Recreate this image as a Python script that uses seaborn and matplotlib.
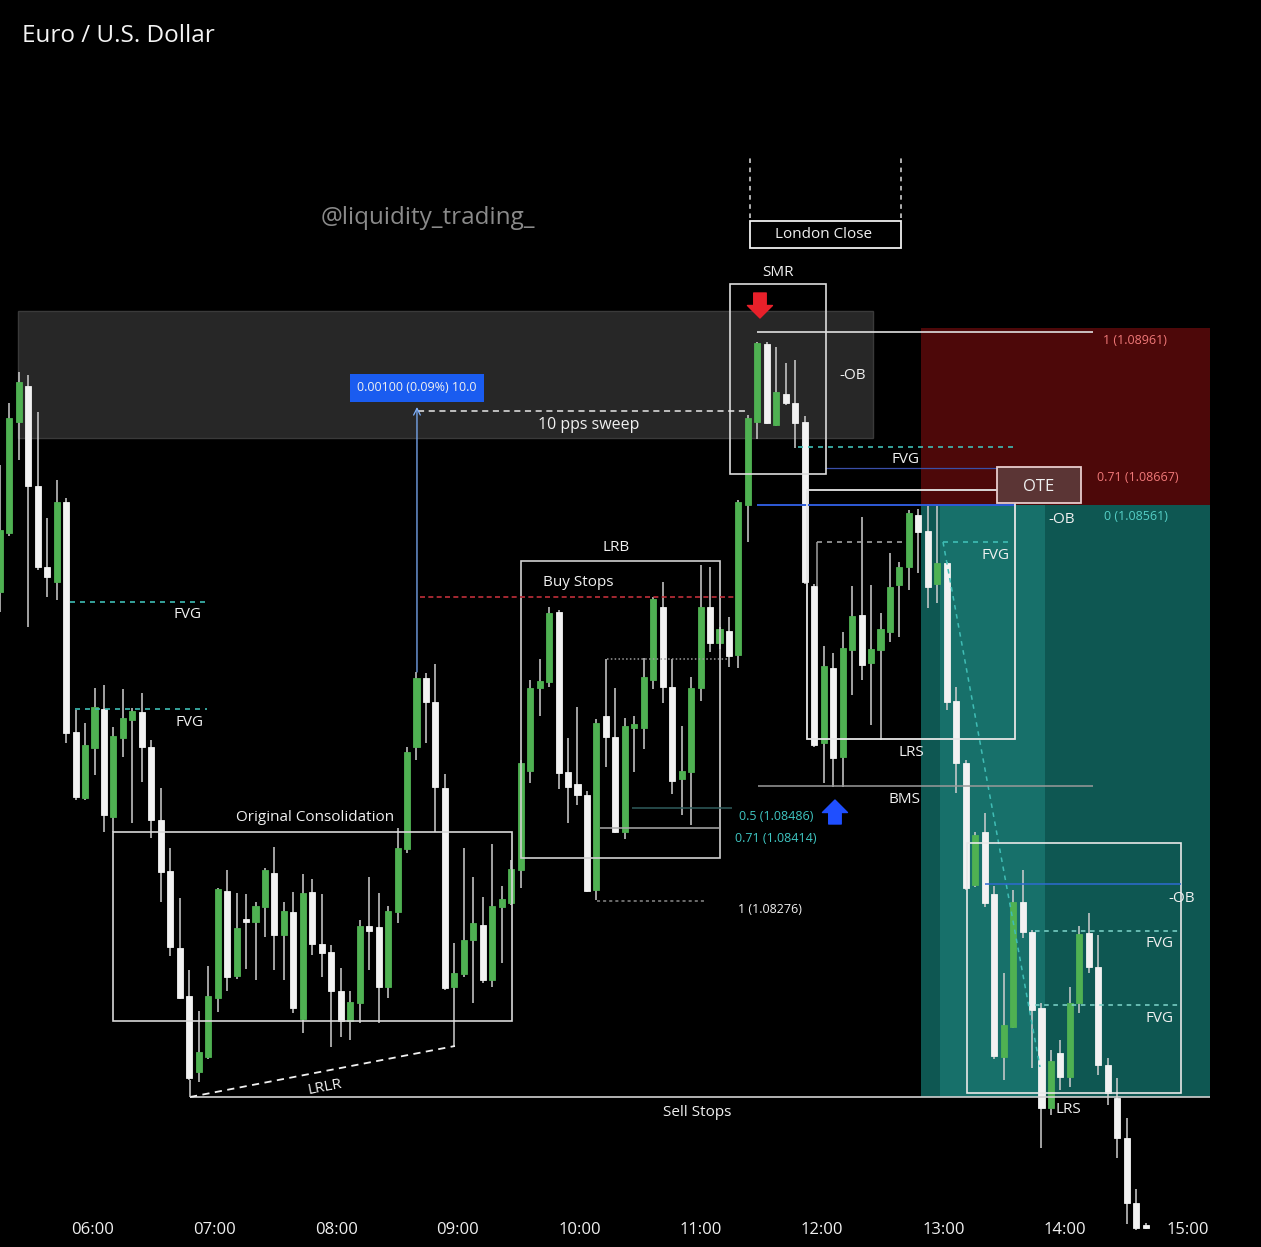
import matplotlib.pyplot as plt
import seaborn as sns
from matplotlib.patches import Rectangle

# EUR/USD 5-minute candles (first one is cut by the left edge)
open_ = [1.08701, 1.08760, 1.08871, 1.08907, 1.08807, 1.08726, 1.08711, 1.08791, 1.08561, 1.08495,
         1.08545, 1.08584, 1.08476, 1.08555, 1.08573, 1.08581, 1.08546, 1.08473, 1.08422, 1.08345,
         1.08297, 1.08221, 1.08236, 1.08295, 1.08402, 1.08317, 1.08373, 1.08371, 1.08386, 1.08420,
         1.08358, 1.08381, 1.08274, 1.08401, 1.08349, 1.08341, 1.08302, 1.08272, 1.08290, 1.08367,
         1.08366, 1.08306, 1.08381, 1.08444, 1.08546, 1.08615, 1.08591, 1.08505, 1.08306, 1.08319,
         1.08353, 1.08368, 1.08313, 1.08386, 1.08390, 1.08423, 1.08522, 1.08605, 1.08611, 1.08681,
         1.08521, 1.08509, 1.08498, 1.08403, 1.08577, 1.08556, 1.08461, 1.08565, 1.08565, 1.08613,
         1.08686, 1.08606, 1.08514, 1.08521, 1.08605, 1.08686, 1.08650, 1.08662, 1.08638, 1.08788,
         1.08871, 1.08949, 1.08868, 1.08899, 1.08890, 1.08871, 1.08707, 1.08550, 1.08625, 1.08536,
         1.08643, 1.08678, 1.08630, 1.08643, 1.08661, 1.08708, 1.08726, 1.08778, 1.08762, 1.08709,
         1.08730, 1.08592, 1.08530, 1.08408, 1.08461, 1.08399, 1.08236, 1.08266, 1.08391, 1.08361,
         1.08285, 1.08185, 1.08240, 1.08216, 1.08290, 1.08360, 1.08326, 1.08228, 1.08195, 1.08155,
         1.08090, 1.08068]
high = [1.08828, 1.08890, 1.08921, 1.08918, 1.08881, 1.08775, 1.08813, 1.08795, 1.08583, 1.08570,
        1.08605, 1.08608, 1.08566, 1.08604, 1.08585, 1.08600, 1.08553, 1.08505, 1.08445, 1.08395,
        1.08323, 1.08282, 1.08327, 1.08405, 1.08423, 1.08400, 1.08399, 1.08391, 1.08425, 1.08446,
        1.08391, 1.08401, 1.08419, 1.08414, 1.08399, 1.08348, 1.08325, 1.08302, 1.08373, 1.08416,
        1.08400, 1.08387, 1.08465, 1.08546, 1.08621, 1.08620, 1.08629, 1.08519, 1.08350, 1.08445,
        1.08416, 1.08396, 1.08449, 1.08407, 1.08433, 1.08533, 1.08613, 1.08634, 1.08686, 1.08683,
        1.08555, 1.08586, 1.08502, 1.08574, 1.08634, 1.08605, 1.08575, 1.08577, 1.08635, 1.08696,
        1.08711, 1.08634, 1.08567, 1.08616, 1.08728, 1.08726, 1.08666, 1.08676, 1.08793, 1.08878,
        1.08951, 1.08951, 1.08946, 1.08930, 1.08933, 1.08877, 1.08709, 1.08647, 1.08640, 1.08661,
        1.08707, 1.08776, 1.08708, 1.08680, 1.08740, 1.08731, 1.08783, 1.08784, 1.08788, 1.08788,
        1.08731, 1.08606, 1.08533, 1.08461, 1.08480, 1.08407, 1.08320, 1.08403, 1.08423, 1.08363,
        1.08290, 1.08243, 1.08253, 1.08306, 1.08367, 1.08380, 1.08358, 1.08235, 1.08215, 1.08175,
        1.08104, 1.08070]
low = [1.08681, 1.08757, 1.08833, 1.08666, 1.08723, 1.08696, 1.08693, 1.08550, 1.08493, 1.08493,
       1.08518, 1.08461, 1.08461, 1.08536, 1.08470, 1.08511, 1.08455, 1.08391, 1.08337, 1.08294,
       1.08213, 1.08211, 1.08234, 1.08281, 1.08302, 1.08314, 1.08324, 1.08313, 1.08356, 1.08323,
       1.08313, 1.08280, 1.08260, 1.08338, 1.08316, 1.08246, 1.08256, 1.08253, 1.08270, 1.08323,
       1.08270, 1.08295, 1.08370, 1.08440, 1.08533, 1.08550, 1.08461, 1.08303, 1.08246, 1.08316,
       1.08290, 1.08310, 1.08306, 1.08330, 1.08388, 1.08405, 1.08510, 1.08577, 1.08606, 1.08504,
       1.08470, 1.08488, 1.08401, 1.08393, 1.08526, 1.08460, 1.08454, 1.08521, 1.08544, 1.08604,
       1.08590, 1.08499, 1.08478, 1.08468, 1.08592, 1.08641, 1.08644, 1.08626, 1.08625, 1.08751,
       1.08854, 1.08869, 1.08867, 1.08888, 1.08845, 1.08709, 1.08546, 1.08510, 1.08506, 1.08506,
       1.08598, 1.08613, 1.08568, 1.08553, 1.08651, 1.08656, 1.08703, 1.08720, 1.08685, 1.08690,
       1.08583, 1.08500, 1.08403, 1.08406, 1.08386, 1.08234, 1.08213, 1.08265, 1.08355, 1.08225,
       1.08145, 1.08178, 1.08203, 1.08206, 1.08280, 1.08320, 1.08218, 1.08188, 1.08135, 1.08069,
       1.08063, 1.08064]
close = [1.08763, 1.08875, 1.08911, 1.08807, 1.08726, 1.08716, 1.08791, 1.08560, 1.08496, 1.08548,
         1.08586, 1.08478, 1.08557, 1.08575, 1.08582, 1.08546, 1.08473, 1.08421, 1.08346, 1.08295,
         1.08215, 1.08241, 1.08297, 1.08404, 1.08316, 1.08365, 1.08371, 1.08387, 1.08423, 1.08358,
         1.08382, 1.08285, 1.08400, 1.08349, 1.08340, 1.08302, 1.08272, 1.08291, 1.08367, 1.08362,
         1.08306, 1.08382, 1.08445, 1.08541, 1.08615, 1.08591, 1.08506, 1.08305, 1.08320, 1.08353,
         1.08370, 1.08313, 1.08387, 1.08394, 1.08424, 1.08530, 1.08605, 1.08612, 1.08680, 1.08520,
         1.08506, 1.08498, 1.08402, 1.08570, 1.08556, 1.08461, 1.08567, 1.08569, 1.08616, 1.08694,
         1.08606, 1.08512, 1.08522, 1.08605, 1.08686, 1.08650, 1.08664, 1.08637, 1.08791, 1.08875,
         1.08950, 1.08870, 1.08901, 1.08890, 1.08870, 1.08711, 1.08548, 1.08627, 1.08535, 1.08645,
         1.08677, 1.08628, 1.08644, 1.08664, 1.08706, 1.08726, 1.08780, 1.08761, 1.08706, 1.08730,
         1.08591, 1.08530, 1.08405, 1.08458, 1.08390, 1.08237, 1.08268, 1.08391, 1.08361, 1.08283,
         1.08185, 1.08232, 1.08216, 1.08290, 1.08359, 1.08326, 1.08228, 1.08200, 1.08155, 1.08090,
         1.08065, 1.08065]

tick_pos = [9.84, 22.72, 35.6, 48.38, 61.27, 74.04, 86.82, 99.7, 112.48, 125.47]
tick_labels = ['06:00', '07:00', '08:00', '09:00', '10:00', '11:00', '12:00', '13:00', '14:00', '15:00']

GREEN = '#4fb152'
WHITE = '#f2f2f2'
CYAN = '#3fbdb5'

sns.set_theme(style='dark', rc={'axes.facecolor': 'black', 'figure.facecolor': 'black',
                                'axes.edgecolor': 'black', 'axes.grid': False})
plt.rcParams['font.family'] = ['Open Sans', 'DejaVu Sans']

fig = plt.figure(figsize=(12.61, 12.47), dpi=100)
ax = fig.add_axes([0, 0, 1, 1])
ax.set_xlim(0.018, 133.18)
ax.set_ylim(1.08046, 1.09293)
for s in ax.spines.values():
    s.set_visible(False)


def rect(x0, x1, y0, y1, z=5, **kw):
    ax.add_patch(Rectangle((x0, y0), x1 - x0, y1 - y0, zorder=z, **kw))


def seg(x0, x1, y0, y1, color='#dddddd', lw=1.1, z=5, **kw):
    ax.plot([x0, x1], [y0, y1], color=color, lw=lw, zorder=z, solid_capstyle='butt', **kw)


def label(x, y, s, size=11, color='#f0f0f0', **kw):
    ax.text(x, y, s, ha='center', va='center', fontsize=size, color=color, zorder=8, **kw)


# shaded zones
rect(1.92, 92.2, 1.08855, 1.08982, z=1, fc='#272727', ec='#3a3a3a', lw=1)
rect(97.27, 127.79, 1.08788, 1.08965, z=0.5, fc='#4d0809', lw=0)
rect(97.27, 127.79, 1.08196, 1.08788, z=0.5, fc='#0e5752', lw=0)
rect(99.28, 110.37, 1.08196, 1.08788, z=0.6, fc='#17706a', lw=0)

# candles
x = list(range(len(open_)))
colors = [GREEN if c >= o else WHITE for o, c in zip(open_, close)]
bottoms = [min(o, c) for o, c in zip(open_, close)]
heights = [max(abs(c - o), 0.000025) for o, c in zip(open_, close)]
ax.vlines(x, low, high, colors='#cfcfcf', lw=1.1, zorder=3)
ax.bar(x, heights, bottom=bottoms, width=0.64, color=colors, edgecolor=colors, lw=0.6, zorder=4)

# structure lines and boxes
seg(79.96, 115.43, 1.08961, 1.08961, color='#e0e0e0', lw=1.2)
seg(79.96, 107.2, 1.08788, 1.08788, color='#2f5bd8', lw=1.4)
seg(87.14, 105.3, 1.08825, 1.08825, color='#3a4fa8', lw=0.9)
rect(85.24, 107.2, 1.08554, 1.08803, fill=False, ec='#e6e6e6', lw=1.3)
rect(77.1, 87.24, 1.08819, 1.09009, fill=False, ec='#dcdcdc', lw=1.2)
rect(79.22, 95.16, 1.09045, 1.09072, fc='black', ec='#f0f0f0', lw=1.3)
for xv in (79.22, 95.16):
    seg(xv, xv, 1.09075, 1.09138, color='#e0e0e0', lw=1.1, ls=(0, (3, 3)))
rect(105.3, 114.17, 1.08790, 1.08826, z=6, fc='#5b3535', ec='#e8cccc', lw=1.3)

seg(7.41, 21.88, 1.08691, 1.08691, color=CYAN, lw=1.2, ls=(0, (3, 3)))
seg(7.94, 21.88, 1.08584, 1.08584, color=CYAN, lw=1.2, ls=(0, (3, 3)))
seg(84.28, 106.99, 1.08846, 1.08846, color=CYAN, lw=1.2, ls=(0, (3, 3)))
seg(86.29, 95.8, 1.08751, 1.08751, color='#a0a0a0', lw=1.2, ls=(0, (3, 3)))
seg(86.29, 86.29, 1.08707, 1.08751, color='#a0a0a0', lw=1.1)
seg(99.6, 106.46, 1.08751, 1.08751, color=CYAN, lw=1.2, ls=(0, (3, 3)))
seg(99.6, 109.84, 1.08751, 1.08226, color=CYAN, lw=1.1, ls=(0, (3, 3)))
seg(80.06, 115.43, 1.08507, 1.08507, color='#9a9a9a', lw=1.1)

rect(55.03, 76.05, 1.08435, 1.08732, fill=False, ec='#d0d0d0', lw=1.2)
seg(44.37, 77.63, 1.08696, 1.08696, color='#c0303a', lw=1.2, ls=(0, (3, 2)))
seg(64.12, 77.1, 1.08634, 1.08634, color='#9a9a9a', lw=1.1, ls=(0, (1, 1.5)))
seg(66.75, 77.31, 1.08485, 1.08485, color='#2f5c5c', lw=1.1)
seg(63.38, 76.05, 1.08465, 1.08465, color='#aaaaaa', lw=1.1)
seg(63.06, 74.46, 1.08392, 1.08392, color='#8a8a8a', lw=1.1, ls=(0, (2, 2)))

rect(11.95, 54.08, 1.08272, 1.08461, fill=False, ec='#d8d8d8', lw=1.2)
seg(20.08, 127.79, 1.08196, 1.08196, color='#d0d0d0', lw=1.2)
seg(20.08, 48.06, 1.08196, 1.08247, color='#f0f0f0', lw=1.3, ls=(0, (4, 3)))
seg(20.08, 20.08, 1.08196, 1.08213, color='#d0d0d0', lw=1.1)

rect(102.13, 124.73, 1.08200, 1.08450, fill=False, ec='#e8e8e8', lw=1.2)
seg(104.03, 124.73, 1.08409, 1.08409, color='#2e6bd1', lw=1.1)
seg(109.31, 124.73, 1.08362, 1.08362, color='#7fd6cc', lw=1.1, ls=(0, (3, 3)))
seg(109.31, 124.73, 1.08288, 1.08288, color='#7fd6cc', lw=1.1, ls=(0, (3, 3)))

seg(44.16, 78.69, 1.08882, 1.08882, color='#e8e8e8', lw=1.1, ls=(0, (4, 3)))
ax.annotate('', xy=(44.05, 1.08886), xytext=(44.05, 1.08621), zorder=5,
            arrowprops=dict(arrowstyle='->', color='#7fb2ff', lw=0.9, shrinkA=0, shrinkB=0))

# arrows
ax.annotate('', xy=(80.27, 1.08975), xytext=(80.27, 1.09000), zorder=7,
            arrowprops=dict(arrowstyle='simple,head_length=0.5,head_width=1.0,tail_width=0.5',
                            color='#e8202a', mutation_scale=18, shrinkA=0, shrinkB=0))
ax.annotate('', xy=(88.19, 1.08493), xytext=(88.19, 1.08469), zorder=7,
            arrowprops=dict(arrowstyle='simple,head_length=0.5,head_width=1.0,tail_width=0.5',
                            color='#1f4fff', mutation_scale=18, shrinkA=0, shrinkB=0))

# labels
label(44.05, 1.08905, '0.00100 (0.09%) 10.0', size=9,
      bbox=dict(boxstyle='square,pad=0.6', fc='#1a5cf0', ec='none'))
label(62.2, 1.08868, '10 pps sweep', size=11.5)
label(45.21, 1.09075, '@liquidity_trading_', size=17.5, color='#8a8a8a')
label(87.03, 1.09058, 'London Close', size=11)
label(82.17, 1.09021, 'SMR')
label(90.09, 1.08917, '-OB')
label(95.69, 1.08833, 'FVG')
label(109.73, 1.08806, 'OTE', size=12)
label(112.16, 1.08773, '-OB')
label(105.19, 1.08737, 'FVG')
label(96.22, 1.08540, 'LRS')
label(95.58, 1.08493, 'BMS')
label(119.87, 1.08952, '1 (1.08961)', size=9, color='#f07878')
label(120.19, 1.08815, '0.71 (1.08667)', size=9, color='#f07878')
label(119.98, 1.08777, '0 (1.08561)', size=9, color='#55cfc6')
label(65.06, 1.08745, 'LRB')
label(61.05, 1.08710, 'Buy Stops')
label(19.87, 1.08678, 'FVG')
label(20.08, 1.08570, 'FVG')
label(33.28, 1.08475, 'Original Consolidation')
label(81.96, 1.08476, '0.5 (1.08486)', size=9, color='#3fc6c2')
label(81.96, 1.08454, '0.71 (1.08414)', size=9, color='#3fc6c2')
label(81.33, 1.08383, '1 (1.08276)', size=9)
label(124.83, 1.08394, '-OB')
label(122.51, 1.08349, 'FVG')
label(122.51, 1.08274, 'FVG')
label(112.8, 1.08183, 'LRS')
label(73.62, 1.08181, 'Sell Stops')
label(34.34, 1.08206, 'LRLR', rotation=11)

ax.set_yticks([])
ax.set_xticks(tick_pos)
ax.set_xticklabels(tick_labels)
ax.tick_params(axis='x', colors='#f0f0f0', labelsize=12, length=0, pad=-18)

fig.text(22 / 1261, 1 - 36 / 1247, 'Euro / U.S. Dollar', color='#f4f4f4', fontsize=17.5,
         ha='left', va='center')

fig.savefig('out.png', dpi=100, facecolor='black')
